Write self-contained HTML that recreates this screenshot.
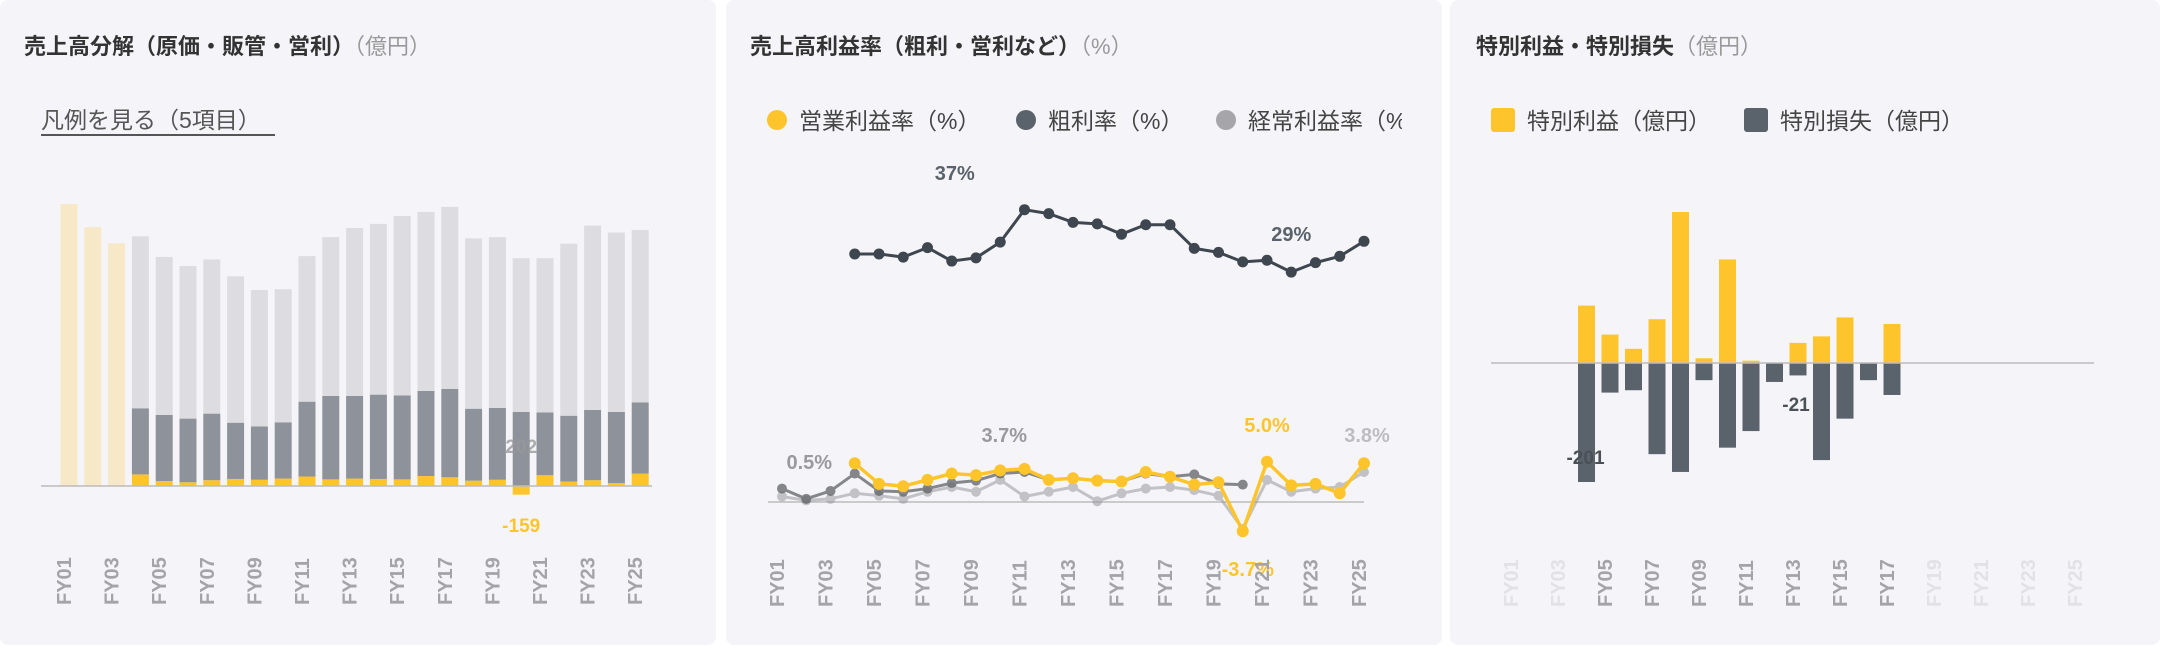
<!DOCTYPE html>
<html><head><meta charset="utf-8">
<style>
html,body{margin:0;padding:0;background:#fff;}
body{width:2160px;height:648px;position:relative;overflow:hidden;font-family:"Liberation Sans","Noto Sans CJK JP",sans-serif;}
.panel{position:absolute;top:0;height:645px;background:#f5f5f9;border-radius:8px;}
.title{position:absolute;top:29px;font-size:22px;font-weight:bold;color:#333;white-space:nowrap;}
.title span{font-weight:normal;color:#999;}
svg{position:absolute;left:0;top:0;}
text{font-family:"Liberation Sans","Noto Sans CJK JP",sans-serif;}
</style></head><body>
<div class="panel" style="left:0;width:716px"></div>
<div class="panel" style="left:726px;width:716px"></div>
<div class="panel" style="left:1450px;width:710px"></div>
<div class="title" style="left:24px">売上高分解（原価・販管・営利）<span>（億円）</span></div>
<div class="title" style="left:750px">売上高利益率（粗利・営利など）<span>（%）</span></div>
<div class="title" style="left:1476px">特別利益・特別損失<span>（億円）</span></div>
<div style="position:absolute;left:41px;top:107px;font-size:23px;color:#555;border-bottom:2px solid #555;padding-right:14px;line-height:27px;cursor:pointer">凡例を見る（5項目）</div>
<svg id="chart" width="2160" height="648"></svg>
<script>
const years = ["FY01","FY02","FY03","FY04","FY05","FY06","FY07","FY08","FY09","FY10","FY11","FY12","FY13","FY14","FY15","FY16","FY17","FY18","FY19","FY20","FY21","FY22","FY23","FY24","FY25"];
// Chart 1 (億円)
const revenue = [5163,4739,4444,4572,4194,4027,4148,3838,3588,3603,4209,4557,4724,4799,4943,5019,5110,4534,4557,4171,4171,4436,4769,4640,4686];
const sga = [null,null,null,1211,1211,1166,1219,1030,977,1030,1370,1529,1514,1544,1537,1559,1620,1317,1317,1355,1151,1204,1287,1302,1302];
const opProfit = [null,null,null,212,91,68,106,129,114,136,174,121,136,129,121,182,159,98,114,-159,197,83,106,53,227];
// Chart 2 (%)
const grossMargin = [null,null,null,31.4,31.4,31.0,32.2,30.5,30.9,32.9,37.0,36.5,35.4,35.2,33.9,35.1,35.1,32.1,31.6,30.4,30.6,29.1,30.3,31.1,33.0];
const opMargin = [null,null,null,4.9,2.3,2.0,2.8,3.6,3.4,4.0,4.2,2.8,3.0,2.7,2.6,3.8,3.2,2.2,2.5,-3.7,5.1,2.1,2.3,1.1,4.9];
const opMarginOld = [1.7,0.4,1.4,3.6,1.4,1.3,1.7,2.4,2.7,3.6,3.8,2.8,3.0,2.7,2.6,3.6,3.2,3.5,2.3,2.2,null,null,null,null,null];
const ordMargin = [0.7,0.2,0.4,1.1,0.8,0.4,1.3,1.9,1.3,2.8,0.7,1.3,1.9,0.1,1.1,1.7,1.9,1.5,0.8,-3.4,2.8,1.3,1.7,1.9,3.8];
// Chart 3 (億円)
const extGain = [null,null,null,97,48,24,74,255,8,175,4,0,34,45,77,0,66,null,null,null,null,null,null,null,null];
const extLoss = [null,null,null,-201,-50,-46,-154,-184,-29,-143,-115,-32,-21,-164,-94,-29,-54,null,null,null,null,null,null,null,null];

const NS="http://www.w3.org/2000/svg";
const svg=document.getElementById('chart');
function el(tag,attrs,parent){const e=document.createElementNS(NS,tag);for(const k in attrs)e.setAttribute(k,attrs[k]);(parent||svg).appendChild(e);return e;}
const YEL="#fdc52b", DARK="#5a626b";

// ---------- Chart 1 ----------
const x1=i=>69+i*23.8;
const base1=486, s1=282/5163;
const y1=v=>base1-v*s1;
const g1=el('g',{});


years.forEach((yr,i)=>{
  const bw=17,x=x1(i)-bw/2;
  if(opProfit[i]===null){
    const r=el('rect',{x:x,y:y1(revenue[i]),width:bw,height:revenue[i]*s1,fill:"#f7e9c8"},g1);
    
    
    return;
  }
  const op=Math.max(opProfit[i],0);
  const cost=revenue[i]-sga[i]-op;
  const a=el('rect',{x:x,y:y1(op),width:bw,height:op*s1,fill:YEL},g1);
  
  
  const b=el('rect',{x:x,y:y1(op+sga[i]),width:bw,height:sga[i]*s1,fill:"#8e939b"},g1);
  
  
  const c=el('rect',{x:x,y:y1(op+sga[i]+cost),width:bw,height:cost*s1,fill:"#dddde1"},g1);
  
  
  if(opProfit[i]<0){
    const n=el('rect',{x:x,y:base1,width:bw,height:-opProfit[i]*s1,fill:YEL},g1);
    
    
  }
});
const ax1=el('line',{x1:41,x2:652,y1:base1,y2:base1,stroke:"#bbb","stroke-width":1.5},g1);


const l159=el('text',{x:x1(19),y:532,"text-anchor":"middle","font-size":19,"font-weight":"bold",fill:YEL},g1);
l159.textContent="-159";


const l202=el('text',{x:x1(19),y:453,"text-anchor":"middle","font-size":19,"font-weight":"bold",fill:"#999",opacity:0.8},g1);
l202.textContent="202";



function xLabels(xf,g,bottom,colorFn){
  years.forEach((yr,i)=>{
    if(i%2)return;
    const t=el('text',{transform:`translate(${xf(i)+2},${bottom}) rotate(-90)`,"font-size":20,"font-weight":"bold",fill:colorFn(i)},g);
    t.textContent=yr;
    
    
  });
}
xLabels(x1,g1,605,()=>"#a4a4a8");

// ---------- Chart 2 ----------
const x2=i=>782+i*24.25;
const base2=502, s2=7.9;
const y2=v=>base2-v*s2;
const g2=el('g',{});


const ax2=el('line',{x1:768,x2:1364,y1:base2,y2:base2,stroke:"#bbb","stroke-width":1.5},g2);


function series(arr,color,op,name,lw,r){
  const g=el('g',{opacity:op},g2);
  
  
  let d="",pen=false;
  arr.forEach((v,i)=>{if(v===null){pen=false;return;}d+=(pen?"L":"M")+x2(i)+","+y2(v);pen=true;});
  el('path',{d:d,fill:"none",stroke:color,"stroke-width":lw,"stroke-linejoin":"round"},g);
  arr.forEach((v,i)=>{if(v===null)return;
    const c=el('circle',{cx:x2(i),cy:y2(v),r:r,fill:color},g);
    
    });
}
series(ordMargin,"#9a9a9e",0.55,"ordinary-margin-line",3,5);
series(opMarginOld,"#5f6166",0.75,"op-margin-old-line",3,5);
series(grossMargin,"#3e4650",1,"gross-margin-line",3,5.5);
series(opMargin,YEL,1,"op-margin-line",3.5,6);
function lab(txt,x,y,color,name){const t=el('text',{x:x,y:y,"text-anchor":"middle","font-size":20,"font-weight":"bold",fill:color},g2);t.textContent=txt;
  
  }
lab("37%",x2(7)+3,180,"#5a626b","label-gross-max");
lab("29%",x2(21),241,"#5a626b","label-gross-min");
lab("0.5%",x2(1)+3,469,"#9a9a9e","label-first");
lab("3.7%",x2(9)+4,442,"#9a9a9e","label-mid");
lab("5.0%",x2(20),432,YEL,"label-op-max");
lab("3.8%",x2(24)+3,442,"#bdbdc1","label-last");
lab("-3.7%",x2(19)+5,576,YEL,"label-op-min");
xLabels(x2,g2,607,()=>"#a4a4a8");
// legend
const lg=el('g',{},g2);


[["営業利益率（%）",777,YEL],["粗利率（%）",1026,DARK],["経常利益率（%）",1226,"#a6a6aa"]].forEach(([t,x,c])=>{
  const it=el('g',{},lg);
  
  
  el('circle',{cx:x,cy:120,r:10,fill:c},it);
  const tx=el('text',{x:x+22,y:129,"font-size":23,fill:"#444"},it);tx.textContent=t;
});
el('rect',{x:1402,y:95,width:40,height:40,fill:"#f5f5f9"},lg);

// ---------- Chart 3 ----------
const x3=i=>1516+i*23.5;
const base3=363, s3=119/201;
const y3=v=>base3-v*s3;
const g3=el('g',{});


years.forEach((yr,i)=>{
  const bw=17,x=x3(i)-bw/2;
  if(extGain[i]!==null&&extGain[i]>0){
    const r=el('rect',{x:x,y:y3(extGain[i]),width:bw,height:extGain[i]*s3,fill:YEL},g3);
    
    
  }
  if(extLoss[i]!==null){
    const r=el('rect',{x:x,y:base3,width:bw,height:-extLoss[i]*s3,fill:DARK},g3);
    
    
  }
});
const ax3=el('line',{x1:1491,x2:2094,y1:base3,y2:base3,stroke:"#bbb","stroke-width":1.5},g3);


const la=el('text',{x:x3(3)-1,y:464,"text-anchor":"middle","font-size":19,"font-weight":"bold",fill:"#4a5058"},g3);
la.textContent="-201";


const lb=el('text',{x:x3(12)-2,y:411,"text-anchor":"middle","font-size":19,"font-weight":"bold",fill:"#4a5058"},g3);
lb.textContent="-21";


xLabels(x3,g3,607,i=>(i>=3&&i<=16)?"#a4a4a8":"#e2e2e6");
const lg3=el('g',{},g3);


[["特別利益（億円）",1491,YEL],["特別損失（億円）",1744,DARK]].forEach(([t,x,c])=>{
  const it=el('g',{},lg3);
  
  
  el('rect',{x:x,y:108,width:24,height:24,rx:3,fill:c},it);
  const tx=el('text',{x:x+36,y:129,"font-size":23,fill:"#444"},it);tx.textContent=t;
});
</script>
</body></html>
